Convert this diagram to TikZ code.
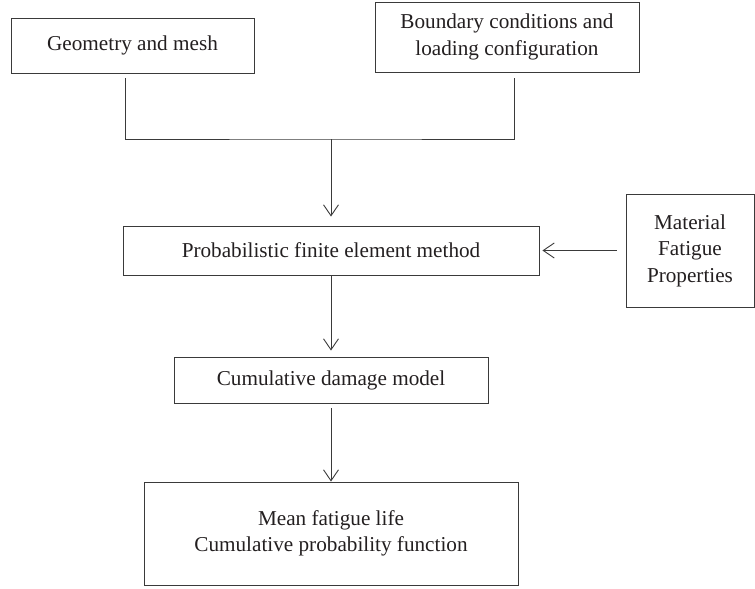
\documentclass[tikz,border=0pt]{standalone}
\usepackage{fontspec}
\setmainfont{Liberation Serif}
\usetikzlibrary{arrows.meta}
\definecolor{ln}{HTML}{3A3A3A}
\definecolor{tx}{HTML}{231F20}
\tikzset{
  box/.style={draw=ln, line width=0.9pt, rectangle, inner sep=0pt, align=center,
    text=tx, font=\fontsize{21.2}{26.5}\selectfont},
  conn/.style={draw=ln, line width=0.9pt},
  arr/.style={conn, -{Straight Barb[length=11pt,width=15pt,line width=0.9pt]}}
}
\begin{document}
\begin{tikzpicture}[x=1pt,y=-1pt]
\useasboundingbox (0,0) rectangle (755,589);
\node[box, minimum width=243pt, minimum height=55pt] (geo) at (132.5,45.5) {Geometry and mesh};
\node[box, minimum width=264pt, minimum height=70pt] (bc) at (507,37) {Boundary conditions and\\loading configuration};
\node[box, minimum width=416pt, minimum height=49pt] (pfem) at (331,250.5) {Probabilistic finite element method};
\node[box, minimum width=128pt, minimum height=113pt] (mat) at (690,250.5) {Material\\Fatigue\\Properties};
\node[box, minimum width=314pt, minimum height=46pt] (cdm) at (331,380) {Cumulative damage model};
\node[box, minimum width=374pt, minimum height=103pt] (out) at (331,533.5) {Mean fatigue life\\Cumulative probability function};
\coordinate (j) at (331,139);
\draw[conn] ([xshift=-7.5pt,yshift=-5pt]geo.south) |- (j) -| ([xshift=7pt,yshift=-6pt]bc.south);
\draw[arr] (j) -- ([yshift=9pt]pfem.north);
\draw[arr] (pfem.south) -- ([yshift=6pt]cdm.north);
\draw[arr] ([yshift=-5pt]cdm.south) -- (out.north);
\draw[arr] ([xshift=-9pt]mat.west) -- ([xshift=3pt]pfem.east);
\end{tikzpicture}
\end{document}
